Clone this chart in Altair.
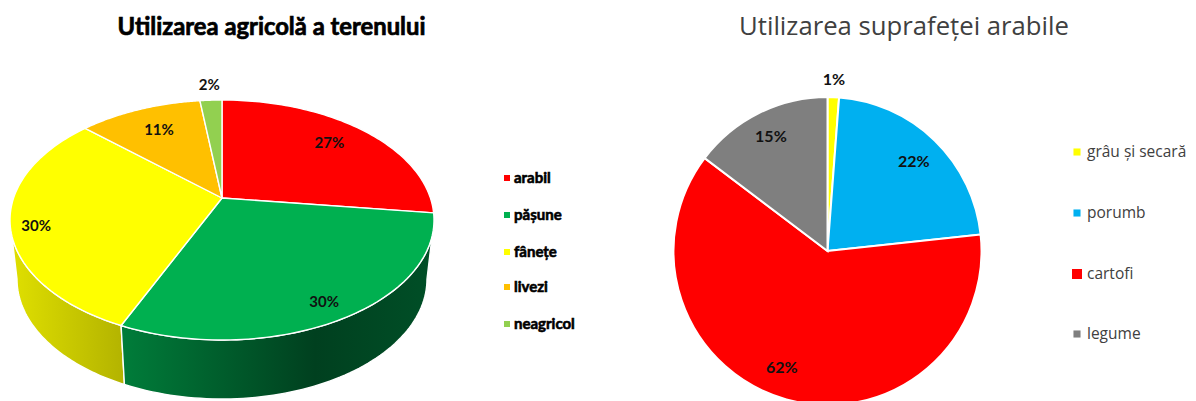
import numpy as np
import pandas as pd
import altair as alt

# ---- data ----
left_title = "Utilizarea agricolă a terenului"
left_categories = ["arabil", "pășune", "fânețe", "livezi", "neagricol"]
left_values = [27.0, 29.6, 30.2, 11.2, 2.0]
left_labels = ["27%", "30%", "30%", "11%", "2%"]
left_colors = ["#FF0000", "#00B050", "#FFFF00", "#FFC000", "#92D050"]

right_title = "Utilizarea suprafeței arabile"
right_categories = ["grâu și secară", "porumb", "cartofi", "legume"]
right_values = [1.2, 22.1, 62.0, 14.7]
right_labels = ["1%", "22%", "62%", "15%"]
right_colors = ["#FFFF00", "#00B0F0", "#FF0000", "#7F7F7F"]

# ---- layout (page pixels) ----
W, H = 1180, 393
X = alt.X("x:Q", axis=None, scale=alt.Scale(domain=[8, 8 + W], range=[0, W]))
Y = alt.Y("y:Q", axis=None, scale=alt.Scale(domain=[8, 8 + H], range=[0, H]))
CX, CY, RX, RY = 222, 220, 212, 120   # top ellipse
APEX = 198
SKEW = (CY - APEX) / RY
BOT_CY, BOT_RX = 279, 205
left_f = [0.77, 0.836, 0.877, 0.765, 1.15]
left_nudge_y = [-2, 4, 6, 0, 0]
PX, PY, PR = 827.5, 251, 154
right_f = [171 / 153, 124 / 153, 126 / 153, 127 / 153]
right_nudge_x = [0, 0, -12, 0]
right_nudge_y = [0, 0, -4, 0]
FONT_L = "Lato"
FONT_R = "Open Sans"


def rim(pct):
    a = np.radians(np.asarray(pct, dtype=float) * 3.6)
    s, c = np.sin(a), np.cos(a)
    d = 1 + SKEW * c
    return s * np.sqrt(1 - SKEW ** 2) / d, (c + SKEW) / d


def ellipse(t_deg, cy, rx):
    t = np.radians(t_deg)
    return CX + rx * np.sin(t), cy - RY * np.cos(t)


cum = np.concatenate([[0], np.cumsum(left_values)])
layers = []


def poly(xs, ys, fill):
    df = pd.DataFrame({"x": xs, "y": ys, "i": np.arange(len(xs))})
    return alt.Chart(df).mark_line(
        fill=fill, filled=True, stroke="white", strokeWidth=1.4, strokeJoin="round", clip=False
    ).encode(x=X, y=Y, order=alt.Order("i:Q"))


def side(t0, t1, fill):
    t = np.linspace(t0, t1, 70)
    x1, y1 = ellipse(t, CY, RX)
    x2, y2 = ellipse(t[::-1], BOT_CY, BOT_RX)
    return poly(np.r_[x1, x2, x1[0]], np.r_[y1, y2, y1[0]], fill)


sx, sy = rim(cum[2])
t_split = np.degrees(np.arctan2(sx, sy)) % 360
green_side = alt.Gradient(
    gradient="linear", x1=0, x2=1, y1=0, y2=0,
    stops=[alt.GradientStop(color="#007D3A", offset=0),
           alt.GradientStop(color="#00401F", offset=0.62),
           alt.GradientStop(color="#004F27", offset=1)],
)
yellow_side = alt.Gradient(
    gradient="linear", x1=0, x2=1, y1=0, y2=0,
    stops=[alt.GradientStop(color="#E0E000", offset=0),
           alt.GradientStop(color="#B3B300", offset=1)],
)
layers.append(side(270, t_split, yellow_side))
layers.append(side(90, t_split, green_side))

for k, col in enumerate(left_colors):
    p = np.linspace(cum[k], cum[k + 1], 80)
    ux, uy = rim(p)
    xs = CX + RX * ux
    ys = CY - RY * uy
    layers.append(poly(np.r_[CX, xs, CX], np.r_[APEX, ys, APEX], col))

# left percentage labels
mid = (cum[:-1] + cum[1:]) / 2
ux, uy = rim(mid)
f = np.array(left_f)
left_lab = pd.DataFrame({
    "x": CX + f * RX * ux,
    "y": APEX + f * (CY - RY * uy - APEX) + np.array(left_nudge_y),
    "t": left_labels,
})
layers.append(alt.Chart(left_lab).mark_text(
    font=FONT_L, fontSize=15, fontWeight="bold", color="#111111"
).encode(x=X, y=Y, text="t:N"))

# right pie
right_df = pd.DataFrame({"c": right_categories, "v": right_values, "i": range(4)})
layers.append(alt.Chart(right_df).mark_arc(
    outerRadius=PR, stroke="white", strokeWidth=2
).encode(
    theta=alt.Theta("v:Q", stack=True),
    order=alt.Order("i:Q"),
    color=alt.Color("c:N", legend=None,
                    scale=alt.Scale(domain=right_categories, range=right_colors)),
    x=alt.value(PX - 8), y=alt.value(PY - 8),
))
rc = np.concatenate([[0], np.cumsum(right_values)])
rm = np.radians((rc[:-1] + rc[1:]) / 2 * 3.6)
rf = np.array(right_f)
right_lab = pd.DataFrame({
    "x": PX + 153 * rf * np.sin(rm) + np.array(right_nudge_x),
    "y": PY - 153 * rf * np.cos(rm) + np.array(right_nudge_y),
    "t": right_labels,
})
layers.append(alt.Chart(right_lab).mark_text(
    font=FONT_L, fontSize=16, fontWeight="bold", color="#111111"
).encode(x=X, y=Y, text="t:N"))

# titles
layers.append(alt.Chart(pd.DataFrame({"x": [271.5], "y": [27.5], "t": [left_title]})).mark_text(
    font=FONT_L, fontSize=23.8, fontWeight="bold", color="black", stroke="black", strokeWidth=0.7
).encode(x=X, y=Y, text="t:N"))
layers.append(alt.Chart(pd.DataFrame({"x": [904], "y": [27], "t": [right_title]})).mark_text(
    font=FONT_R, fontSize=25.7, color="#404040"
).encode(x=X, y=Y, text="t:N"))

# left legend
leg_l = pd.DataFrame({"c": left_categories, "x": 507, "y": [178, 215, 252, 287, 324]})
layers.append(alt.Chart(leg_l).mark_square(size=36, opacity=1).encode(
    x=X, y=Y,
    fill=alt.Fill("c:N", legend=None,
                  scale=alt.Scale(domain=left_categories, range=left_colors)),
))
leg_l_t = leg_l.assign(x=514)
layers.append(alt.Chart(leg_l_t).mark_text(
    align="left", font=FONT_L, fontSize=15, fontWeight="bold", color="black",
    stroke="black", strokeWidth=0.6
).encode(x=X, y=Y, text="c:N"))

# right legend
leg_r = pd.DataFrame({"c": right_categories, "x": 1077, "y": [152, 213, 274, 334]})
layers.append(alt.Chart(leg_r).mark_square(opacity=1).encode(
    x=X, y=Y,
    size=alt.condition(alt.datum.c == "cartofi", alt.value(100), alt.value(50)),
    fill=alt.Fill("c:N", legend=None,
                  scale=alt.Scale(domain=right_categories, range=right_colors)),
))
leg_r_t = leg_r.assign(x=1087)
layers.append(alt.Chart(leg_r_t).mark_text(
    align="left", font=FONT_R, fontSize=15.5, color="#404040"
).encode(x=X, y=Y, text="c:N"))

chart = alt.layer(*layers).resolve_scale(
    color="independent", fill="independent", theta="independent"
).properties(
    width=W, height=H, padding=0, autosize=alt.AutoSizeParams(type="none")
).configure_view(stroke=None)

chart.save("out.html", embed_options={"renderer": "svg", "actions": False})
